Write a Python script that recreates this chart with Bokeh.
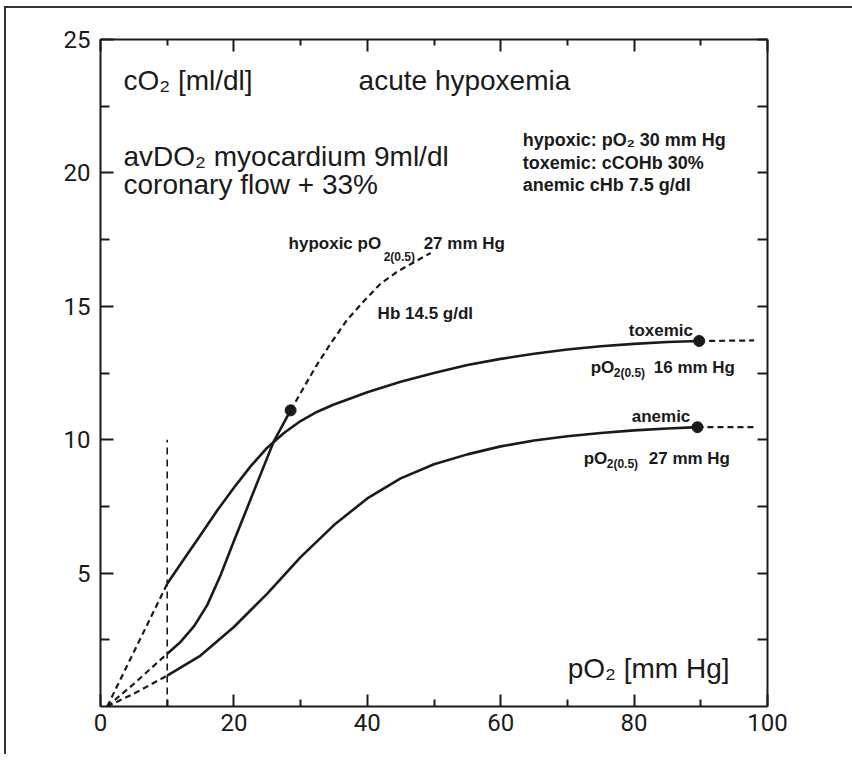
from bokeh.plotting import figure
from bokeh.layouts import column
from bokeh.embed import file_html
from bokeh.resources import INLINE
from bokeh.models import LinearAxis, FixedTicker, Range1d, CustomJSTickFormatter
from bokeh.core.properties import value

# ---------------- data ----------------
x_ticks = [0, 20, 40, 60, 80, 100]
x_minor = [10, 30, 50, 70, 90]
y_ticks = [5, 10, 15, 20, 25]
y_minor = [2.5, 7.5, 12.5, 17.5, 22.5]

# toxemic curve (cCOHb 30 %)
tox_dash0_x = [1, 10]
tox_dash0_y = [0, 4.6]
tox_x = [10, 12.5, 15, 17.5, 20, 22.5, 25, 27.5, 30, 32.5, 35, 40, 45, 50, 55, 60,
         65, 70, 75, 80, 85, 89.75]
tox_y = [4.6, 5.52, 6.43, 7.35, 8.2, 9.0, 9.7, 10.25, 10.7, 11.05, 11.32, 11.78,
         12.17, 12.5, 12.8, 13.03, 13.22, 13.38, 13.5, 13.59, 13.66, 13.7]
tox_dash1_x = [89.75, 98]
tox_dash1_y = [13.7, 13.72]

# anemic curve (cHb 7.5 g/dl)
ane_dash0_x = [1, 5, 10]
ane_dash0_y = [0, 0.48, 1.16]
ane_x = [10, 15, 20, 25, 30, 35, 40, 45, 50, 55, 60, 65, 70, 75, 80, 85, 89.5]
ane_y = [1.16, 1.91, 2.98, 4.23, 5.6, 6.8, 7.8, 8.55, 9.08, 9.45, 9.75, 9.97,
         10.13, 10.25, 10.35, 10.42, 10.47]
ane_dash1_x = [89.5, 98]
ane_dash1_y = [10.47, 10.47]

# hypoxic curve (pO2 30 mm Hg)
hyp_dash0_x = [1, 5, 10]
hyp_dash0_y = [0, 0.85, 1.98]
hyp_x = [10, 12, 14, 16, 18, 20, 22, 24, 26, 28.5]
hyp_y = [1.98, 2.42, 3.0, 3.8, 4.92, 6.2, 7.45, 8.7, 9.95, 11.1]
hyp_dash1_x = [28.5, 30, 32.3, 34.5, 37, 39.5, 42, 44.5, 47, 49.5]
hyp_dash1_y = [11.1, 11.75, 12.75, 13.6, 14.5, 15.2, 15.85, 16.3, 16.65, 17.0]

# vertical reference line at pO2 = 10
vref_x = [10, 10]
vref_y = [0, 10]

INK = "#1a1a1a"
SANS = value("Liberation Sans")

# thin scan frame along the left and top edge of the page
frame_css = {
    "background-color": "white",
    "background-image": "linear-gradient(#333, #333), linear-gradient(#333, #333)",
    "background-size": "2px 100%, 100% 2px",
    "background-position": "4px 6px, 4px 6px",
    "background-repeat": "no-repeat",
}

p = figure(frame_width=667, frame_height=667,
           x_range=Range1d(0, 100), y_range=Range1d(0, 25),
           output_backend="svg", toolbar_location=None,
           x_axis_location=None, y_axis_location=None,
           min_border_left=100, min_border_right=95,
           min_border_top=39, min_border_bottom=48,
           background_fill_color="white", border_fill_color=None)
p.grid.visible = False
p.outline_line_color = None

tick_font = "Roboto"


def style_axis(ax, show_labels):
    ax.axis_line_color = INK
    ax.axis_line_width = 2
    ax.major_tick_line_color = INK
    ax.major_tick_line_width = 2
    ax.minor_tick_line_color = INK
    ax.minor_tick_line_width = 2
    ax.major_tick_in = 12
    ax.major_tick_out = 0
    ax.minor_tick_in = 7
    ax.minor_tick_out = 0
    ax.major_label_text_font = tick_font
    ax.major_label_text_font_size = "24px"
    ax.major_label_text_color = INK
    if not show_labels:
        ax.formatter = CustomJSTickFormatter(code="return ''")


bx = LinearAxis(ticker=FixedTicker(ticks=x_ticks, minor_ticks=x_minor))
style_axis(bx, True)
bx.major_label_standoff = 7
p.add_layout(bx, "below")

tx = LinearAxis(ticker=FixedTicker(ticks=x_ticks, minor_ticks=x_minor))
style_axis(tx, False)
tx.major_tick_in = 12
tx.minor_tick_in = 6
p.add_layout(tx, "above")

ly = LinearAxis(ticker=FixedTicker(ticks=y_ticks, minor_ticks=y_minor))
style_axis(ly, True)
ly.major_tick_in = 13
ly.minor_tick_in = 9
ly.major_label_standoff = 10
p.add_layout(ly, "left")

ry = LinearAxis(ticker=FixedTicker(ticks=y_ticks, minor_ticks=y_minor))
style_axis(ry, False)
ry.major_tick_in = 10
ry.minor_tick_in = 10
p.add_layout(ry, "right")

# ---------------- curves ----------------
LW = 2.6
DASH = "6 4"
for xs, ys in [(tox_x, tox_y), (ane_x, ane_y), (hyp_x, hyp_y)]:
    p.line(xs, ys, line_color=INK, line_width=LW, line_join="round")
for xs, ys in [(tox_dash0_x, tox_dash0_y), (ane_dash0_x, ane_dash0_y),
               (hyp_dash0_x, hyp_dash0_y), (tox_dash1_x, tox_dash1_y),
               (ane_dash1_x, ane_dash1_y), (hyp_dash1_x, hyp_dash1_y)]:
    p.line(xs, ys, line_color=INK, line_width=2.2, line_dash=DASH, line_join="round")
p.line(vref_x, vref_y, line_color=INK, line_width=1.6, line_dash="7 5")

dot_x = [hyp_x[-1], tox_x[-1], ane_x[-1]]
dot_y = [hyp_y[-1], tox_y[-1], ane_y[-1]]
p.scatter(dot_x, dot_y, marker="circle", size=11, fill_color=INK, line_color=INK)


# ---------------- annotations ----------------
def px2x(px):
    return (px - 100) / 6.667


def px2y(py):
    return (706 - py) / 26.67


def txt(px, py, s, size, bold=False):
    p.text(x=[px2x(px)], y=[px2y(py)], text=[s], text_font=SANS,
           text_font_size=size, text_font_style="bold" if bold else "normal",
           text_color=INK, text_align="left", text_baseline="middle")


txt(123, 80, "cO₂ [ml/dl]", "28px")
txt(358, 80, "acute hypoxemia", "28px")
txt(123, 156, "avDO₂ myocardium 9ml/dl", "28px")
txt(123, 184, "coronary flow + 33%", "28px")

txt(522, 140, "hypoxic: pO₂ 30 mm Hg", "18px", True)
txt(522, 163, "toxemic: cCOHb 30%", "18px", True)
txt(522, 185, "anemic cHb 7.5 g/dl", "18px", True)

txt(288, 243, "hypoxic pO", "17px", True)
txt(383, 257, "2(0.5)", "12px", True)
txt(423, 243, "27 mm Hg", "17px", True)
txt(377, 313, "Hb 14.5 g/dl", "17px", True)

txt(628, 330, "toxemic", "17px", True)
txt(590, 367, "pO", "17px", True)
txt(613, 373, "2(0.5)", "12px", True)
txt(653, 367, "16 mm Hg", "17px", True)

txt(631, 416, "anemic", "17px", True)
txt(583, 458, "pO", "17px", True)
txt(606, 464, "2(0.5)", "12px", True)
txt(648, 458, "27 mm Hg", "17px", True)

txt(567, 668, "pO₂ [mm Hg]", "28px")

page = column(p, styles=frame_css)
open("out.html", "w").write(file_html(page, INLINE))
